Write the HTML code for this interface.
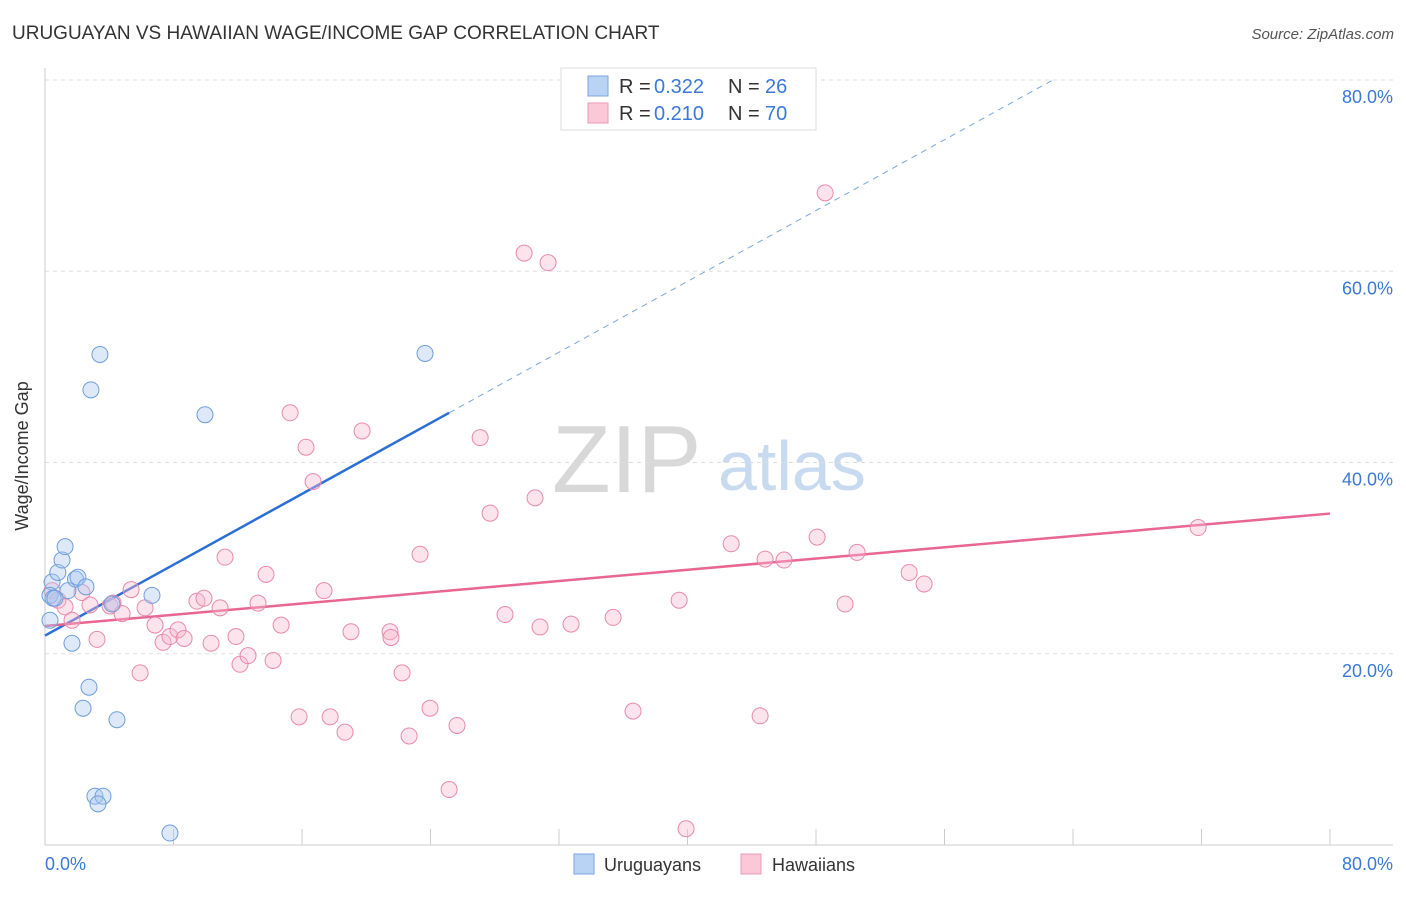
<!DOCTYPE html>
<html><head><meta charset="utf-8"><style>
body{margin:0;background:#fff;font-family:"Liberation Sans",sans-serif;}
svg text{font-family:"Liberation Sans",sans-serif;}
</style></head><body>
<svg id="chart" width="1406" height="892" viewBox="0 0 1406 892" xmlns="http://www.w3.org/2000/svg">
<text x="12" y="39" font-size="19" fill="#333">URUGUAYAN VS HAWAIIAN WAGE/INCOME GAP CORRELATION CHART</text>
<text x="1394" y="39" font-size="15" fill="#555" font-style="italic" text-anchor="end">Source: ZipAtlas.com</text>
<g>
<text x="552" y="492" font-size="96" fill="#d8d8d8" font-family="Liberation Serif,serif">ZIP</text>
<text x="718" y="490" font-size="70" fill="#c8daf0">atlas</text>
</g>
<g id="grid"></g>
<g id="axes"></g>
<g id="lines"></g>
<g id="points"></g>
<text x="28" y="456" font-size="18" fill="#333" text-anchor="middle" transform="rotate(-90 28 456)">Wage/Income Gap</text>
<text x="45" y="870" font-size="18" fill="#3b78d8">0.0%</text>
<text x="1393" y="870" font-size="18" fill="#3b78d8" text-anchor="end">80.0%</text>
<g>
<rect x="561" y="68" width="255" height="62" fill="#fff" stroke="#ddd"/>
<rect x="588" y="76" width="20" height="20" fill="#b9d3f5" stroke="#7aa6e0"/>
<rect x="588" y="103" width="20" height="20" fill="#fbc8d8" stroke="#ec98b4"/>
<g font-size="20">
<text x="619" y="93" fill="#333">R =</text><text x="654" y="93" fill="#3b78d8">0.322</text>
<text x="728" y="93" fill="#333">N =</text><text x="765" y="93" fill="#3b78d8">26</text>
</g>
<g font-size="20">
<text x="619" y="120" fill="#333">R =</text><text x="654" y="120" fill="#3b78d8">0.210</text>
<text x="728" y="120" fill="#333">N =</text><text x="765" y="120" fill="#3b78d8">70</text>
</g>
</g>
<g>
<rect x="574" y="854" width="20" height="20" fill="#b9d3f5" stroke="#7aa6e0"/>
<text x="604" y="871" font-size="18" fill="#333">Uruguayans</text>
<rect x="741" y="854" width="20" height="20" fill="#fbc8d8" stroke="#ec98b4"/>
<text x="772" y="871" font-size="18" fill="#333">Hawaiians</text>
</g>
</svg>
<script>
const blueX=[0.44,0.31,0.5,0.8,1.06,1.25,1.43,1.9,2.05,2.55,3.42,2.86,1.68,2.74,2.37,4.48,4.17,3.11,3.61,3.3,6.66,9.96,7.78,23.66,0.31,0.62];
const blueY=[27.5,26.1,25.8,28.5,29.8,31.2,26.6,27.8,28.0,27.0,51.3,47.6,21.1,16.5,14.3,13.1,25.2,5.1,5.1,4.3,26.1,45.0,1.25,51.4,23.5,25.8];
const pinkX=[0.44,0.81,1.25,1.68,2.3,2.8,3.24,4.05,4.24,4.8,5.36,5.92,6.23,6.85,7.35,7.78,8.28,8.66,9.46,9.9,10.34,10.9,11.21,11.89,12.14,12.64,13.26,13.76,14.2,14.7,15.26,15.82,16.25,16.69,17.37,17.75,18.68,19.05,19.74,21.48,21.54,22.23,22.67,23.35,23.97,25.16,25.65,27.09,27.71,28.64,29.83,30.51,30.82,31.32,32.75,35.37,36.61,39.48,39.91,42.72,44.52,44.83,46.01,48.07,48.57,49.81,50.56,53.8,54.73,71.79];
const pinkY=[26.6,25.6,24.9,23.5,26.4,25.1,21.5,25.0,25.3,24.2,26.7,18.0,24.8,23.0,21.2,21.8,22.5,21.6,25.5,25.8,21.1,24.8,30.1,21.8,18.9,19.8,25.3,28.3,19.3,23.0,45.2,13.4,41.6,38.0,26.6,13.4,11.8,22.3,43.3,22.3,21.7,18.0,11.4,30.4,14.3,5.8,12.5,42.6,34.7,24.1,61.9,36.3,22.8,60.9,23.1,23.8,14.0,25.6,1.7,31.5,13.5,29.9,29.8,32.2,68.2,25.2,30.6,28.5,27.3,33.2];
const yTicks=[20,40,60,80];
const yTickLabels=["20.0%","40.0%","60.0%","80.0%"];
const xTicks=[0,8,16,24,32,40,48,56,64,72,80];
const blueTrend=[21.9,0.926];
const blueSolidEnd=25.16, blueDashEnd=62.9;
const pinkTrend=[22.9,0.147];
const pinkEnd=80;

const NS="http://www.w3.org/2000/svg";
const sx=v=>45+v*(1285/80);
const sy=v=>845-v*(765/80);
function mk(tag,attrs,parent){const e=document.createElementNS(NS,tag);for(const k in attrs)e.setAttribute(k,attrs[k]);document.getElementById(parent).appendChild(e);return e;}

yTicks.forEach((t,i)=>{
 const g=mk('line',{x1:45,x2:1393,y1:sy(t),y2:sy(t),stroke:'#ddd','stroke-dasharray':'4,4'},'grid');
 
 
 const l=mk('text',{x:1393,y:sy(t)+23,'font-size':18,fill:'#3b78d8','text-anchor':'end'},'grid');
 l.textContent=yTickLabels[i];
 
 
});
const ya=mk('line',{x1:45,x2:45,y1:68,y2:845,stroke:'#ccc'},'axes');


const xa=mk('line',{x1:45,x2:1393,y1:845,y2:845,stroke:'#ccc'},'axes');


xTicks.forEach(t=>{
 const k=mk('line',{x1:sx(t),x2:sx(t),y1:829,y2:845,stroke:'#ccc'},'axes');
 
 
});

function drawPts(X,Y,fill,stroke,name){
 X.forEach((x,i)=>{
  const c=mk('circle',{cx:sx(x),cy:sy(Y[i]),r:8,fill:fill,'fill-opacity':0.4,stroke:stroke,'stroke-width':1},'points');
  
  
 });
}
drawPts(pinkX,pinkY,'#f9b8cc','#e98aab','hawaiian-point');
drawPts(blueX,blueY,'#a9c8f0','#6f9ddc','uruguayan-point');

const b1=mk('line',{x1:sx(0),y1:sy(blueTrend[0]),x2:sx(blueSolidEnd),y2:sy(blueTrend[0]+blueTrend[1]*blueSolidEnd),stroke:'#2a6fd6','stroke-width':2.5},'lines');


const b2=mk('line',{x1:sx(blueSolidEnd),y1:sy(blueTrend[0]+blueTrend[1]*blueSolidEnd),x2:sx(blueDashEnd),y2:sy(blueTrend[0]+blueTrend[1]*blueDashEnd),stroke:'#7aa6e0','stroke-width':1,'stroke-dasharray':'6,5'},'lines');


const p1=mk('line',{x1:sx(0),y1:sy(pinkTrend[0]),x2:sx(pinkEnd),y2:sy(pinkTrend[0]+pinkTrend[1]*pinkEnd),stroke:'#e8668f','stroke-width':2.5},'lines');


</script>
</body></html>
